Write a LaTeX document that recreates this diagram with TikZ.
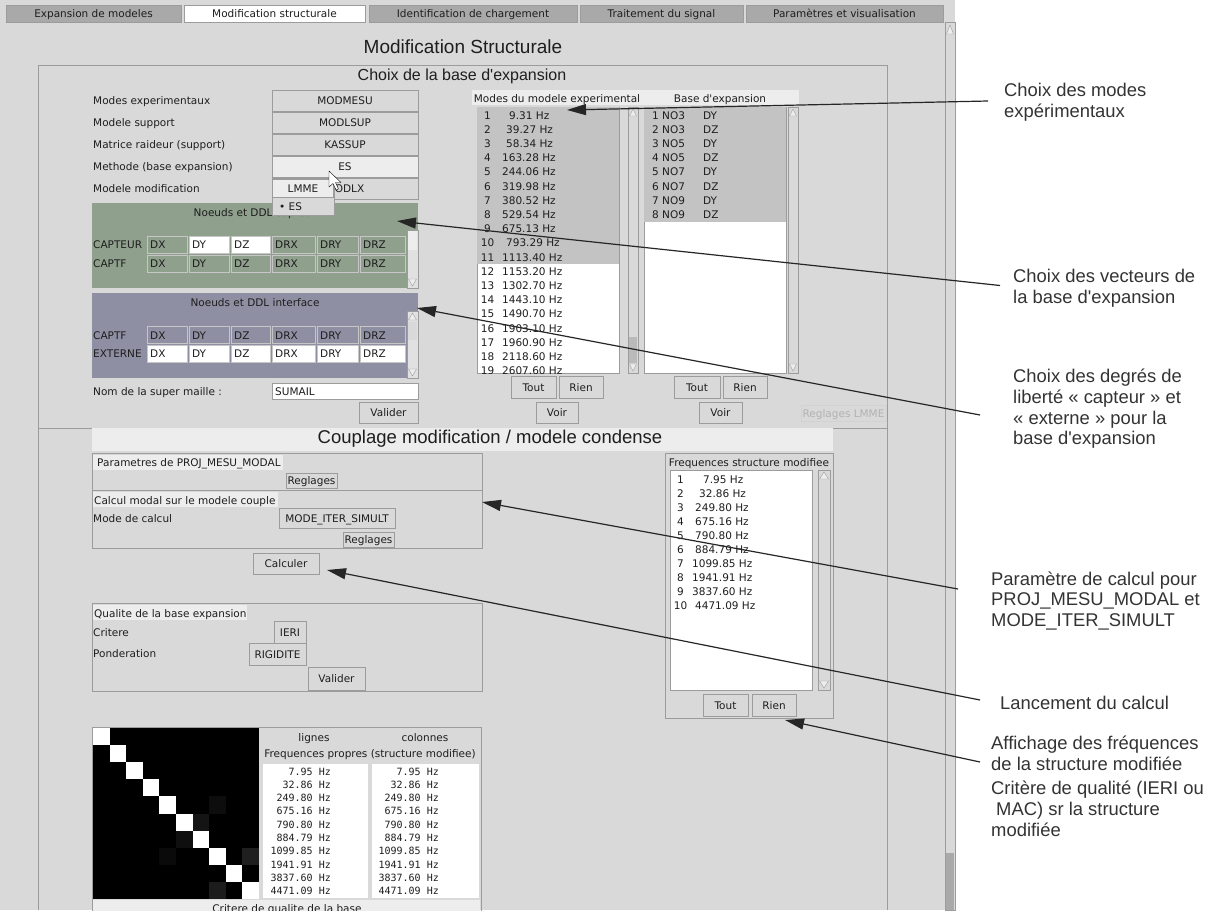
\documentclass[tikz,border=0pt]{standalone}
\usepackage{fontspec}
\setmainfont{Liberation Sans}
\newfontfamily\guifont{DejaVu Sans}
\newfontfamily\guimono{DejaVu Sans Mono}
\usetikzlibrary{shapes, arrows.meta, calc}

\definecolor{guibg}{HTML}{D9D9D9}
\definecolor{tabgray}{HTML}{A9A9A9}
\definecolor{bandlight}{HTML}{EDEDED}
\definecolor{selgray}{HTML}{C3C3C3}
\definecolor{capgreen}{HTML}{8FA08D}
\definecolor{intpurple}{HTML}{8F8FA3}
\definecolor{framegray}{HTML}{9C9C9C}
\definecolor{guitext}{HTML}{1E1E1E}

\tikzset{
  gui/.style={font=\guifont\fontsize{10.5}{12}\selectfont, text=guitext, inner sep=0pt, text height=10pt, text depth=2pt},
  mono/.style={font=\guimono\fontsize{10}{12}\selectfont, text=guitext, inner sep=0pt, text height=10pt, text depth=2pt},
  btn/.style={gui, draw=framegray, fill=guibg},
  cell/.style={draw=gray!45, minimum height=17pt, inner sep=0pt},
  titre/.style={font=\fontsize{16}{18}\selectfont, text=guitext, inner sep=0pt},
  note/.style={font=\fontsize{18.4}{20.7}\selectfont, text=black!80, align=left, anchor=west, inner sep=0pt},
  callout/.style={-{Triangle[length=19pt,width=11pt]}, line width=1.2pt, black!85}
}

\begin{document}
\begin{tikzpicture}[x=1pt,y=-1pt]
\useasboundingbox (0,0) rectangle (1215,910);
\fill[white] (0,0) rectangle (1215,910);
\fill[guibg] (0,0) rectangle (955,910);

% onglets
\node[gui, draw=framegray, fill=tabgray, minimum width=175pt, minimum height=17pt] (t1) at (93.5,13.5) {Expansion de modeles};
\node[gui, draw=framegray, fill=white, minimum width=181pt, minimum height=17pt] (t2) at (274.5,13.5) {Modification structurale};
\node[gui, draw=framegray, fill=tabgray, minimum width=208pt, minimum height=17pt] (t3) at (473,13.5) {Identification de chargement};
\node[gui, draw=framegray, fill=tabgray, minimum width=163pt, minimum height=17pt] (t4) at (661.5,13.5) {Traitement du signal};
\node[gui, draw=framegray, fill=tabgray, minimum width=197pt, minimum height=17pt] (t5) at (844.5,13.5) {Paramètres et visualisation};

% ascenseur de la fenetre
\draw[framegray, fill=guibg] (945,22) rectangle (955,910);
\fill[tabgray] (946,853) rectangle (954,910);
\draw[framegray, fill=bandlight] (950,25) -- (946.5,34) -- (953.5,34) -- cycle;

\node[font=\fontsize{19}{22}\selectfont, text=guitext] (titre) at (463,47) {Modification Structurale};

% cadres
\draw[framegray] (38,910) -- (38,65) -- (887,65) -- (887,910);
\draw[framegray] (38,428) -- (887,428);
\node[titre] (choix) at (462,76) {Choix de la base d\textquotesingle expansion};

\node[gui, anchor=west] (l1) at (93,100.5) {Modes experimentaux};
\node[gui, anchor=west] (l2) at (93,122.5) {Modele support};
\node[gui, anchor=west] (l3) at (93,144.5) {Matrice raideur (support)};
\node[gui, anchor=west] (l4) at (93,166.5) {Methode (base expansion)};
\node[gui, anchor=west] (l5) at (93,188.5) {Modele modification};

\node[btn, minimum width=146pt, minimum height=21pt] (b1) at (345,100.5) {MODMESU};
\node[btn, minimum width=146pt, minimum height=21pt] (b2) at (345,122.5) {MODLSUP};
\node[btn, minimum width=146pt, minimum height=21pt] (b3) at (345,144.5) {KASSUP};
\node[btn, fill=bandlight, minimum width=146pt, minimum height=21pt] (b4) at (345,166.5) {ES};
\node[btn, minimum width=146pt, minimum height=21pt] (b5) at (345,188.5) {MODLX};

% noeuds capteur
\fill[capgreen] (92,203) rectangle (418,288);
\node[gui] (capt) at (255,212) {Noeuds et DDL capteur};
\draw[framegray, fill=guibg!80] (407,230) rectangle (418,288);
\fill[bandlight] (408,231) rectangle (417,250);
\draw[framegray, fill=bandlight] (408.5,279) -- (416.5,279) -- (412.5,286) -- cycle;
\node[gui, anchor=west] (r1) at (93,244.5) {CAPTEUR};
\node[gui, anchor=west] (r2) at (93,263.5) {CAPTF};
\foreach \x/\w/\t/\c [count=\i] in {167/40/DX/capgreen, 209/40/DY/white, 250.5/39/DZ/white, 293.5/43/DRX/capgreen, 337.5/41/DRY/capgreen, 382.5/45/DRZ/capgreen} {
  \node[cell, fill=\c, minimum width=\w] (ca\i) at (\x,244.5) {};
  \node[gui, anchor=west] (ta\i) at (\x-\w/2+3,244.5) {\t};
  \node[cell, fill=capgreen, minimum width=\w] (cb\i) at (\x,263.5) {};
  \node[gui, anchor=west] (tb\i) at (\x-\w/2+3,263.5) {\t};
}

% noeuds interface
\fill[intpurple] (92,293) rectangle (418,378);
\node[gui] (inter) at (255,302) {Noeuds et DDL interface};
\draw[framegray, fill=guibg!80] (407,311) rectangle (418,378);
\draw[framegray, fill=bandlight] (412.5,313) -- (408.5,320) -- (416.5,320) -- cycle;
\fill[guibg] (408,322) rectangle (417,340);
\draw[framegray, fill=bandlight] (408.5,369) -- (416.5,369) -- (412.5,376) -- cycle;
\node[gui, anchor=west] (r3) at (93,335) {CAPTF};
\node[gui, anchor=west] (r4) at (93,353.5) {EXTERNE};
\foreach \x/\w/\t [count=\i] in {167/40/DX, 209/40/DY, 250.5/39/DZ, 293.5/43/DRX, 337.5/41/DRY, 382.5/45/DRZ} {
  \node[cell, fill=intpurple, minimum width=\w] (cc\i) at (\x,335) {};
  \node[gui, anchor=west] (tc\i) at (\x-\w/2+3,335) {\t};
  \node[cell, fill=white, minimum width=\w] (cd\i) at (\x,353.5) {};
  \node[gui, anchor=west] (td\i) at (\x-\w/2+3,353.5) {\t};
}

\node[gui, anchor=west] (nom) at (93,391) {Nom de la super maille :};
\node[gui, draw=framegray, fill=white, minimum width=146pt, minimum height=16pt] (sumail) at (345,391) {};
\node[gui, anchor=west] (sm) at (275,391) {SUMAIL};
\node[btn, minimum width=59pt, minimum height=21pt] (val1) at (388.5,412.5) {Valider};

% menu deroulant
\node[draw=framegray, fill=guibg, minimum width=62pt, minimum height=36pt, inner sep=0pt] (pop) at (303,197) {};
\node[gui, draw=framegray, fill=bandlight, minimum width=61pt, minimum height=18pt] (lmme) at (303,188.5) {LMME};
\node[gui, anchor=west] (es) at (279,206) {• ES};
\draw[black, fill=white, line join=round] (329,171) -- (329,187) -- (333,183.5) -- (336,190) -- (338.5,189) -- (335.5,182.5) -- (341,182.5) -- cycle;

% listes de modes
\fill[bandlight] (472,90) rectangle (799,105);
\node[gui] (hm) at (557,98) {Modes du modele experimental};
\node[gui] (hb) at (720,98) {Base d\textquotesingle expansion};

\draw[framegray, fill=white] (477,107) rectangle (619,373);
\fill[selgray] (477,107) rectangle (619,264);
\begin{scope}
\clip (477,107) rectangle (619,373);
\foreach \i/\xf/\f [count=\k from 0] in {1/509/9.31, 2/506/39.27, 3/506/58.34, 4/502/163.28, 5/502/244.06, 6/502/319.98, 7/502/380.52, 8/502/529.54, 9/502/675.13, 10/506/793.29, 11/502/1113.40, 12/502/1153.20, 13/502/1302.70, 14/502/1443.10, 15/502/1490.70, 16/502/1903.10, 17/502/1960.90, 18/502/2118.60, 19/502/2607.60} {
  \node[gui] (m\i) at (487.5,115+\k*14.2) {\i};
  \node[gui, anchor=west] (f\i) at (\xf,115+\k*14.2) {\f\ Hz};
}
\end{scope}

\draw[framegray, fill=white] (644,107) rectangle (786,373);
\fill[selgray] (644,107) rectangle (786,222);
\foreach \i/\n/\d [count=\k from 0] in {1/NO3/DY, 2/NO3/DZ, 3/NO5/DY, 4/NO5/DZ, 5/NO7/DY, 6/NO7/DZ, 7/NO9/DY, 8/NO9/DZ} {
  \node[gui, anchor=west] (n\i) at (652,115+\k*14.2) {\i\ \n};
  \node[gui, anchor=west] (d\i) at (703,115+\k*14.2) {\d};
}

\foreach \xa/\ya/\xb/\yb in {628/107/638/373, 788/107/798/373, 818/470/830/690} {
  \draw[framegray, fill=guibg] (\xa,\ya) rectangle (\xb,\yb);
  \draw[framegray, fill=bandlight] ({(\xa+\xb)/2},\ya+2) -- (\xa+1.5,\ya+9) -- (\xb-1.5,\ya+9) -- cycle;
  \draw[framegray, fill=bandlight] (\xa+1.5,\yb-9) -- (\xb-1.5,\yb-9) -- ({(\xa+\xb)/2},\yb-2) -- cycle;
}
\fill[tabgray!80] (629,337) rectangle (637,363);

\node[btn, minimum width=45pt, minimum height=22pt] (tout1) at (533.5,387) {Tout};
\node[btn, minimum width=44pt, minimum height=22pt] (rien1) at (581,387) {Rien};
\node[btn, minimum width=42pt, minimum height=21pt] (voir1) at (557,412.5) {Voir};
\node[btn, minimum width=46pt, minimum height=22pt] (tout2) at (697,387) {Tout};
\node[btn, minimum width=44pt, minimum height=22pt] (rien2) at (745,387) {Rien};
\node[btn, minimum width=43pt, minimum height=21pt] (voir2) at (720.5,412.5) {Voir};
\node[btn, draw=gray!35, text=gray!60, minimum width=85pt, minimum height=16pt] (lmmebtn) at (843.5,413) {Reglages LMME};

% couplage
\fill[bandlight] (92,428) rectangle (833,451);
\node[font=\fontsize{18.5}{21}\selectfont, text=guitext, inner sep=0pt] (coupl) at (490,439) {Couplage modification / modele condense};

\draw[framegray] (92,453) rectangle (482,490);
\fill[bandlight] (93,455) rectangle (283,470);
\node[gui, anchor=west] (proj) at (97,462) {Parametres de PROJ\_MESU\_MODAL};
\node[btn, minimum width=51pt, minimum height=15pt] (reg1) at (311.5,480.5) {Reglages};

\draw[framegray] (92,490) rectangle (482,548);
\fill[bandlight] (93,492) rectangle (278,507);
\node[gui, anchor=west] (calc) at (94,500) {Calcul modal sur le modele couple};
\node[gui, anchor=west] (mode) at (93,518) {Mode de calcul};
\node[btn, minimum width=116pt, minimum height=20pt] (iter) at (337,518) {MODE\_ITER\_SIMULT};
\node[btn, minimum width=51pt, minimum height=15pt] (reg2) at (368.5,539.5) {Reglages};

\node[btn, minimum width=66pt, minimum height=21pt] (calculer) at (286,563.5) {Calculer};

\draw[framegray] (92,603) rectangle (482,691);
\fill[bandlight] (93,605) rectangle (247,620);
\node[gui, anchor=west] (qual) at (94,613) {Qualite de la base expansion};
\node[gui, anchor=west] (crit) at (93,632) {Critere};
\node[gui, anchor=west] (pond) at (93,653) {Ponderation};
\node[btn, minimum width=32pt, minimum height=22pt] (ieri) at (290,632) {IERI};
\node[btn, minimum width=57pt, minimum height=22pt] (rig) at (277.5,654) {RIGIDITE};
\node[btn, minimum width=57pt, minimum height=23pt] (val2) at (336.5,678.5) {Valider};

% frequences de la structure modifiee
\draw[framegray] (665,453) rectangle (833,718);
\node[gui] (hfreq) at (749,462) {Frequences structure modifiee};
\draw[framegray, fill=white] (670,470) rectangle (812,690);
\foreach \i/\xf/\f [count=\k from 0] in {1/703/7.95, 2/699/32.86, 3/695/249.80, 4/695/675.16, 5/695/790.80, 6/695/884.79, 7/692/1099.85, 8/692/1941.91, 9/692/3837.60, 10/695/4471.09} {
  \node[gui] (p\i) at (680.5,479+\k*14.1) {\i};
  \node[gui, anchor=west] (q\i) at (\xf,479+\k*14.1) {\f\ Hz};
}
\node[btn, minimum width=45pt, minimum height=22pt] (tout3) at (725.5,705) {Tout};
\node[btn, minimum width=44pt, minimum height=22pt] (rien3) at (774,705) {Rien};

% matrice de qualite
\draw[framegray] (92,727) rectangle (481,915);
\fill[black] (93,728) rectangle (259,899);
\foreach \i in {0,...,9}
  \fill[white] (93+\i*16.6,728+\i*17.1) rectangle ++(16.6,17.1);
\foreach \r/\c/\g in {4/7/5, 5/6/8, 6/5/6, 7/4/4, 7/9/12, 9/7/11}
  \fill[white!\g!black] (93+\c*16.6,728+\r*17.1) rectangle ++(16.6,17.1);
\node[gui] (lig) at (314,737) {lignes};
\node[gui] (col) at (425,737) {colonnes};
\node[gui] (fp) at (370,753) {Frequences propres (structure modifiee)};
\fill[white] (263,764) rectangle (368,898);
\fill[white] (372,764) rectangle (479,898);
\foreach \f [count=\k from 0] in {7.95, 32.86, 249.80, 675.16, 790.80, 884.79, 1099.85, 1941.91, 3837.60, 4471.09} {
  \node[mono, anchor=east] (u\k) at (331,771+\k*13.3) {\f\ Hz};
  \node[mono, anchor=east] (v\k) at (439,771+\k*13.3) {\f\ Hz};
}
\fill[bandlight] (93,900) rectangle (480,915);
\node[gui] (critb) at (287,908.5) {Critere de qualite de la base};

% annotations
\node[note] (ann1) at (1004,102.5) {Choix des modes\\expérimentaux};
\node[note] (ann2) at (1013,288.5) {Choix des vecteurs de\\la base d\textquotesingle expansion};
\node[note] (ann3) at (1013,409) {Choix des degrés de\\liberté «~capteur~» et\\«~externe~» pour la\\base d\textquotesingle expansion};
\node[note] (ann4) at (991,601) {Paramètre de calcul pour\\PROJ\_MESU\_MODAL et\\MODE\_ITER\_SIMULT};
\node[note] (ann5) at (1000,703) {Lancement du calcul};
\node[note] (ann6) at (991,753) {Affichage des fréquences\\de la structure modifiée};
\node[note] (ann7) at (991,809) {Critère de qualité (IERI ou\\\hspace*{5pt}MAC) sr la structure\\modifiée};

\coordinate (h1) at (567,110);
\coordinate (h2) at (397,221);
\coordinate (h3) at (417,308);
\coordinate (h4) at (482,502);
\coordinate (h5) at (327,570);
\coordinate (h6) at (785,720);

\draw[callout] ($(ann1.west)+(-16,-1.5)$) -- (h1);
\draw[callout] ($(ann2.west)+(-13,-3)$) -- (h2);
\draw[callout] ($(ann3.west)+(-33,6)$) -- (h3);
\draw[callout] ($(ann4.west)+(-33,-12)$) -- (h4);
\draw[callout] ($(ann5.west)+(-20,-3)$) -- (h5);
\draw[callout] ($(ann6.west)+(-11,9)$) -- (h6);
\end{tikzpicture}
\end{document}
